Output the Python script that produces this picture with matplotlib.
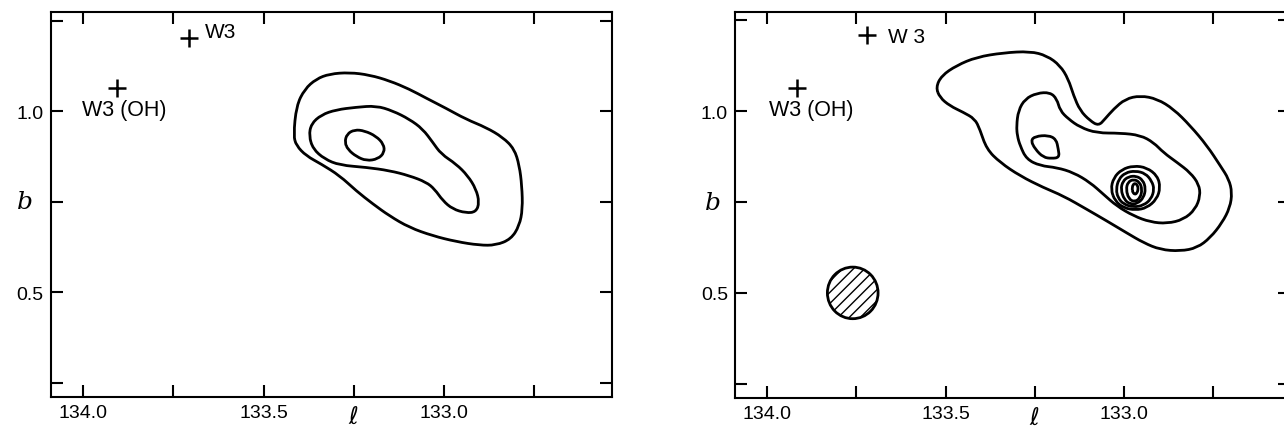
import numpy as np
import matplotlib.pyplot as plt
from matplotlib.path import Path
from matplotlib.patches import PathPatch, Circle
from matplotlib.transforms import blended_transform_factory

plt.rcParams['font.family'] = ['Liberation Sans', 'DejaVu Sans']

#######################################
# DATA  (galactic l, b in degrees)
#######################################

# left map: three contours
left_outer_l = [133.417, 133.409, 133.386, 133.354, 133.317, 133.262, 133.206, 133.151, 133.096, 133.049,
                132.994, 132.939, 132.883, 132.837, 132.805, 132.791, 132.784, 132.782, 132.791, 132.814,
                132.856, 132.902, 132.966, 133.031, 133.096, 133.151, 133.197, 133.243, 133.289, 133.340,
                133.382, 133.409]
left_outer_b = [0.932, 1.015, 1.061, 1.089, 1.103, 1.107, 1.100, 1.084, 1.061, 1.036,
                1.008, 0.978, 0.955, 0.928, 0.896, 0.850, 0.794, 0.730, 0.684, 0.647,
                0.630, 0.630, 0.640, 0.656, 0.679, 0.711, 0.744, 0.780, 0.822, 0.854,
                0.877, 0.905]

left_mid_l = [133.374, 133.368, 133.340, 133.299, 133.243, 133.188, 133.142, 133.096, 133.059, 133.031,
              133.008, 132.966, 132.934, 132.911, 132.902, 132.911, 132.939, 132.976, 133.003, 133.026,
              133.049, 133.096, 133.151, 133.215, 133.289, 133.331, 133.363]
left_mid_b = [0.932, 0.965, 0.990, 1.004, 1.011, 1.015, 1.001, 0.978, 0.951, 0.914,
              0.882, 0.854, 0.822, 0.785, 0.748, 0.722, 0.719, 0.730, 0.753, 0.785,
              0.804, 0.822, 0.836, 0.845, 0.851, 0.868, 0.896]

left_inner_l = [133.275, 133.269, 133.248, 133.220, 133.188, 133.167, 133.165, 133.183, 133.215, 133.243, 133.266]
left_inner_b = [0.914, 0.937, 0.949, 0.946, 0.931, 0.909, 0.886, 0.868, 0.863, 0.875, 0.894]

# right map
right_outer_l = [133.527, 133.511, 133.469, 133.413, 133.338, 133.263, 133.216, 133.179, 133.156, 133.141,
                 133.123, 133.095, 133.071, 133.053, 133.029, 132.996, 132.954, 132.907, 132.861, 132.814,
                 132.767, 132.730, 132.706, 132.697, 132.703, 132.725, 132.758, 132.795, 132.842, 132.898,
                 132.945, 132.992, 133.048, 133.104, 133.170, 133.226, 133.291, 133.347, 133.385, 133.404,
                 133.418, 133.450, 133.488, 133.516]
right_outer_b = [1.066, 1.098, 1.126, 1.149, 1.161, 1.165, 1.153, 1.126, 1.089, 1.043,
                 1.002, 0.974, 0.960, 0.979, 1.006, 1.034, 1.043, 1.034, 1.006, 0.960,
                 0.905, 0.850, 0.813, 0.776, 0.735, 0.693, 0.652, 0.624, 0.615, 0.619,
                 0.638, 0.665, 0.698, 0.730, 0.767, 0.790, 0.822, 0.859, 0.896, 0.951,
                 0.979, 0.997, 1.015, 1.038]

right_mid_l = [133.301, 133.296, 133.277, 133.244, 133.207, 133.188, 133.179, 133.156, 133.123, 133.076,
               133.010, 132.954, 132.917, 132.889, 132.851, 132.814, 132.790, 132.786, 132.800, 132.833,
               132.879, 132.926, 132.973, 133.020, 133.057, 133.095, 133.141, 133.188, 133.235, 133.273,
               133.291, 133.299]
right_mid_b = [0.960, 1.002, 1.034, 1.050, 1.052, 1.034, 1.002, 0.979, 0.956, 0.940,
               0.940, 0.934, 0.914, 0.886, 0.859, 0.831, 0.799, 0.767, 0.730, 0.702,
               0.691, 0.695, 0.712, 0.739, 0.771, 0.804, 0.831, 0.845, 0.850, 0.868,
               0.905, 0.933]

right_knot_l = [133.261, 133.249, 133.212, 133.190, 133.184, 133.181, 133.202, 133.226, 133.249]
right_knot_b = [0.919, 0.931, 0.934, 0.923, 0.896, 0.873, 0.870, 0.873, 0.896]

# compact source, nested rings (outer -> inner)
ring1_l = [133.037, 133.029, 133.006, 132.973, 132.936, 132.906, 132.898, 132.908, 132.936, 132.968, 133.001, 133.025]
ring1_b = [0.785, 0.817, 0.840, 0.850, 0.845, 0.822, 0.790, 0.758, 0.734, 0.728, 0.734, 0.753]
ring2_l = [133.022, 133.015, 132.996, 132.968, 132.940, 132.922, 132.915, 132.924, 132.945, 132.973, 133.001, 133.017]
ring2_b = [0.785, 0.813, 0.831, 0.836, 0.829, 0.808, 0.785, 0.758, 0.741, 0.736, 0.744, 0.762]
ring3_l = [133.009, 133.003, 132.987, 132.966, 132.947, 132.939, 132.945, 132.962, 132.982, 132.999]
ring3_b = [0.785, 0.808, 0.820, 0.822, 0.811, 0.787, 0.762, 0.746, 0.744, 0.756]
ring4_l = [132.994, 132.989, 132.973, 132.956, 132.949, 132.954, 132.970, 132.987]
ring4_b = [0.785, 0.805, 0.813, 0.805, 0.785, 0.762, 0.750, 0.759]
ring5_l = [132.977, 132.975, 132.968, 132.962, 132.960, 132.964, 132.970, 132.976]
ring5_b = [0.787, 0.798, 0.802, 0.796, 0.785, 0.774, 0.771, 0.778]

# marked sources (left map, right map)
w3_l = [133.707, 133.721]
w3_b = [1.202, 1.210]
w3oh_l = [133.905, 133.917]
w3oh_b = [1.063, 1.063]

# beam
beam_l, beam_b, beam_r = 133.76, 0.50, 0.071

# axes
l_lim = (134.09, 132.535)
b_lim = (0.211, 1.274)
tick_l = [134.0, 133.75, 133.5, 133.25, 133.0, 132.75]
tick_l_lab = ['134.0', '', '133.5', '', '133.0', '']
tick_b = [0.25, 0.5, 0.75, 1.0, 1.25]
tick_b_lab = ['', '0.5', '', '1.0', '']


#######################################
# UTILS
#######################################

def closed_curve(l, b):
    # smooth closed path: vertices used as quadratic control points
    pts = np.column_stack([l, b])
    mids = (pts + np.roll(pts, -1, axis=0)) / 2
    verts = [mids[-1]]
    codes = [Path.MOVETO]
    for i in range(len(pts)):
        verts += [pts[i], mids[i]]
        codes += [Path.CURVE3, Path.CURVE3]
    return Path(verts, codes)


def draw_contour(ax, l, b):
    ax.add_patch(PathPatch(closed_curve(l, b), fill=False, edgecolor='black', lw=2.0, joinstyle='round'))


def setup_axes(ax, ylab_x):
    ax.set_xlim(*l_lim)
    ax.set_ylim(*b_lim)
    ax.set_xticks(tick_l)
    ax.set_xticklabels(tick_l_lab)
    ax.set_yticks(tick_b)
    ax.set_yticklabels(tick_b_lab)
    ax.tick_params(direction='in', length=8.5, width=1.5, top=True, right=True, labelsize=14, pad=5)
    for s in ax.spines.values():
        s.set_linewidth(1.5)
    trx = blended_transform_factory(ax.transData, ax.transAxes)
    ax.text(133.25, -0.052, r'$\ell$', transform=trx, ha='center', va='center', fontsize=17)
    try_ = blended_transform_factory(ax.transAxes, ax.transData)
    ax.text(ylab_x, 0.75, 'b', transform=try_, ha='center', va='center', fontsize=18,
            family='DejaVu Serif', style='italic')


#######################################
# FIGURE
#######################################

fig = plt.figure(figsize=(12.84, 4.31), dpi=100)
ax1 = fig.add_axes([0.0395, 0.0766, 0.4369, 0.8933])
ax2 = fig.add_axes([0.5724, 0.0745, 0.4322, 0.8960])

# left map
setup_axes(ax1, -0.046)
draw_contour(ax1, left_outer_l, left_outer_b)
draw_contour(ax1, left_mid_l, left_mid_b)
draw_contour(ax1, left_inner_l, left_inner_b)
ax1.plot(w3_l[0], w3_b[0], '+', color='black', ms=13, mew=1.8)
ax1.plot(w3oh_l[0], w3oh_b[0], '+', color='black', ms=13, mew=1.8)
ax1.text(133.663, 1.220, 'W3', fontsize=15, ha='left', va='center')
ax1.text(134.004, 1.005, 'W3 (OH)', fontsize=15.5, ha='left', va='center')

# right map
setup_axes(ax2, -0.040)
draw_contour(ax2, right_outer_l, right_outer_b)
draw_contour(ax2, right_mid_l, right_mid_b)
draw_contour(ax2, right_knot_l, right_knot_b)
for rl, rb in [(ring1_l, ring1_b), (ring2_l, ring2_b), (ring3_l, ring3_b), (ring4_l, ring4_b), (ring5_l, ring5_b)]:
    draw_contour(ax2, rl, rb)
ax2.plot(w3_l[1], w3_b[1], '+', color='black', ms=13, mew=1.8)
ax2.plot(w3oh_l[1], w3oh_b[1], '+', color='black', ms=13, mew=1.8)
ax2.text(133.662, 1.205, 'W 3', fontsize=15, ha='left', va='center')
ax2.text(133.994, 1.004, 'W3 (OH)', fontsize=15.5, ha='left', va='center')
ax2.add_patch(Circle((beam_l, beam_b), beam_r, facecolor='none', edgecolor='black', lw=2.0, hatch='///'))

fig.savefig('out.png', dpi=100)
